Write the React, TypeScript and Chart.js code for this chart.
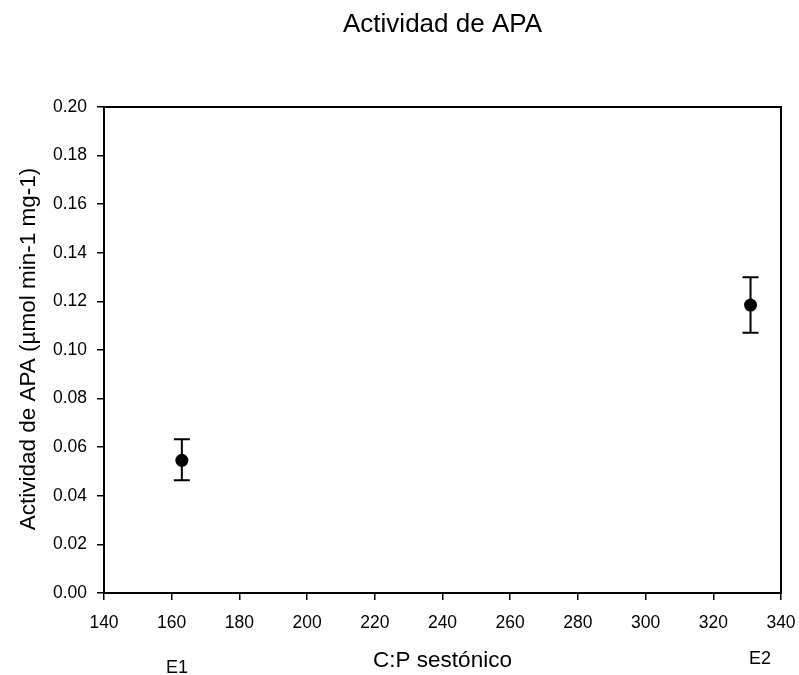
import React, { useEffect, useRef } from "react";
import { Chart, registerables } from "chart.js";

Chart.register(...registerables);

// ---- data ----
const cpValues = [163, 331];
const apaValues = [0.0546, 0.1185];
const apaUpper = [0.0633, 0.1299];
const apaLower = [0.0464, 0.1071];

const sampleLabels = ["E1", "E2"];
const sampleLabelX = [161.6, 333.8];

const xTicks = [140, 160, 180, 200, 220, 240, 260, 280, 300, 320, 340];
const yTicks = [0, 0.02, 0.04, 0.06, 0.08, 0.1, 0.12, 0.14, 0.16, 0.18, 0.2];

const titleText = "Actividad de APA";
const xTitleText = "C:P sestónico";
const yTitleText = "Actividad de APA (µmol min-1 mg-1)";

const FONT = "Arial, 'Liberation Sans', sans-serif";

// label vertical offsets below the axis (px) for E1 / E2
const sampleLabelDrop = [80, 71];

const overlayPlugin = {
  id: "overlay",
  beforeDatasetsDraw(chart: any) {
    const ctx = chart.ctx;
    const xs = chart.scales.x;
    const ys = chart.scales.y;
    ctx.save();
    ctx.strokeStyle = "#000";
    ctx.lineWidth = 2;
    for (let i = 0; i < cpValues.length; i++) {
      const px = xs.getPixelForValue(cpValues[i]);
      const pTop = ys.getPixelForValue(apaUpper[i]);
      const pBot = ys.getPixelForValue(apaLower[i]);
      ctx.beginPath();
      ctx.moveTo(px, pTop);
      ctx.lineTo(px, pBot);
      ctx.moveTo(px - 8, pTop);
      ctx.lineTo(px + 8, pTop);
      ctx.moveTo(px - 8, pBot);
      ctx.lineTo(px + 8, pBot);
      ctx.stroke();
    }
    ctx.restore();
  },
  afterDraw(chart: any) {
    const ctx = chart.ctx;
    const a = chart.chartArea;
    const xs = chart.scales.x;
    ctx.save();
    // frame
    ctx.strokeStyle = "#000";
    ctx.lineWidth = 2;
    ctx.strokeRect(a.left, a.top, a.right - a.left, a.bottom - a.top);

    const cx = (a.left + a.right) / 2;
    const cy = (a.top + a.bottom) / 2;
    ctx.fillStyle = "#000";
    ctx.textAlign = "center";
    ctx.textBaseline = "alphabetic";

    // main title
    ctx.font = `26px ${FONT}`;
    ctx.fillText(titleText, cx, 32);

    // x title
    ctx.font = `22.5px ${FONT}`;
    ctx.fillText(xTitleText, cx, 667);

    // y title
    ctx.save();
    ctx.translate(35, cy - 1);
    ctx.rotate(-Math.PI / 2);
    ctx.fillText(yTitleText, 0, 0);
    ctx.restore();

    // sample labels
    ctx.font = `18px ${FONT}`;
    for (let i = 0; i < sampleLabels.length; i++) {
      const px = xs.getPixelForValue(sampleLabelX[i]);
      ctx.fillText(sampleLabels[i], px, a.bottom + sampleLabelDrop[i]);
    }
    ctx.restore();
  },
};

export default function App() {
  const ref = useRef<HTMLCanvasElement>(null);

  useEffect(() => {
    const canvas = ref.current;
    if (!canvas) return;
    const chart = new Chart(canvas, {
      type: "scatter",
      data: {
        datasets: [
          {
            label: "APA",
            data: cpValues.map((x, i) => ({ x, y: apaValues[i] })),
            backgroundColor: "#000",
            borderColor: "#000",
            borderWidth: 0,
            pointRadius: 6.5,
            pointHoverRadius: 6.5,
          },
        ],
      },
      options: {
        animation: false,
        responsive: false,
        maintainAspectRatio: false,
        layout: { padding: { top: 107, right: 0, left: 0, bottom: 0 } },
        plugins: {
          legend: { display: false },
          title: { display: false },
          tooltip: { enabled: false },
        },
        scales: {
          x: {
            type: "linear",
            min: 140,
            max: 340,
            afterBuildTicks: (scale: any) => {
              scale.ticks = xTicks.map((v) => ({ value: v }));
            },
            afterFit: (scale: any) => {
              scale.height = 82;
              scale.paddingLeft = 0;
              scale.paddingRight = 18;
            },
            border: { display: false },
            grid: {
              display: true,
              drawOnChartArea: false,
              drawTicks: true,
              tickLength: 7,
              color: "#000",
              lineWidth: 1.5,
            },
            ticks: {
              autoSkip: false,
              maxRotation: 0,
              padding: 13,
              color: "#000",
              font: { family: FONT, size: 17.5 },
              callback: (v: any) => String(v),
            },
          },
          y: {
            type: "linear",
            min: 0,
            max: 0.2,
            afterBuildTicks: (scale: any) => {
              scale.ticks = yTicks.map((v) => ({ value: v }));
            },
            afterFit: (scale: any) => {
              scale.width = 104;
              scale.paddingTop = 0;
              scale.paddingBottom = 0;
            },
            border: { display: false },
            grid: {
              display: true,
              drawOnChartArea: false,
              drawTicks: true,
              tickLength: 7,
              color: "#000",
              lineWidth: 1.5,
            },
            ticks: {
              autoSkip: false,
              padding: 10,
              color: "#000",
              font: { family: FONT, size: 17.5 },
              callback: (v: any) => Number(v).toFixed(2),
            },
          },
        },
      },
      plugins: [overlayPlugin],
    });
    return () => chart.destroy();
  }, []);

  return (
    <div style={{ position: "fixed", left: 0, top: 0, width: 799, height: 675, background: "#fff" }}>
      <canvas ref={ref} width={799} height={675} style={{ display: "block" }} />
    </div>
  );
}
